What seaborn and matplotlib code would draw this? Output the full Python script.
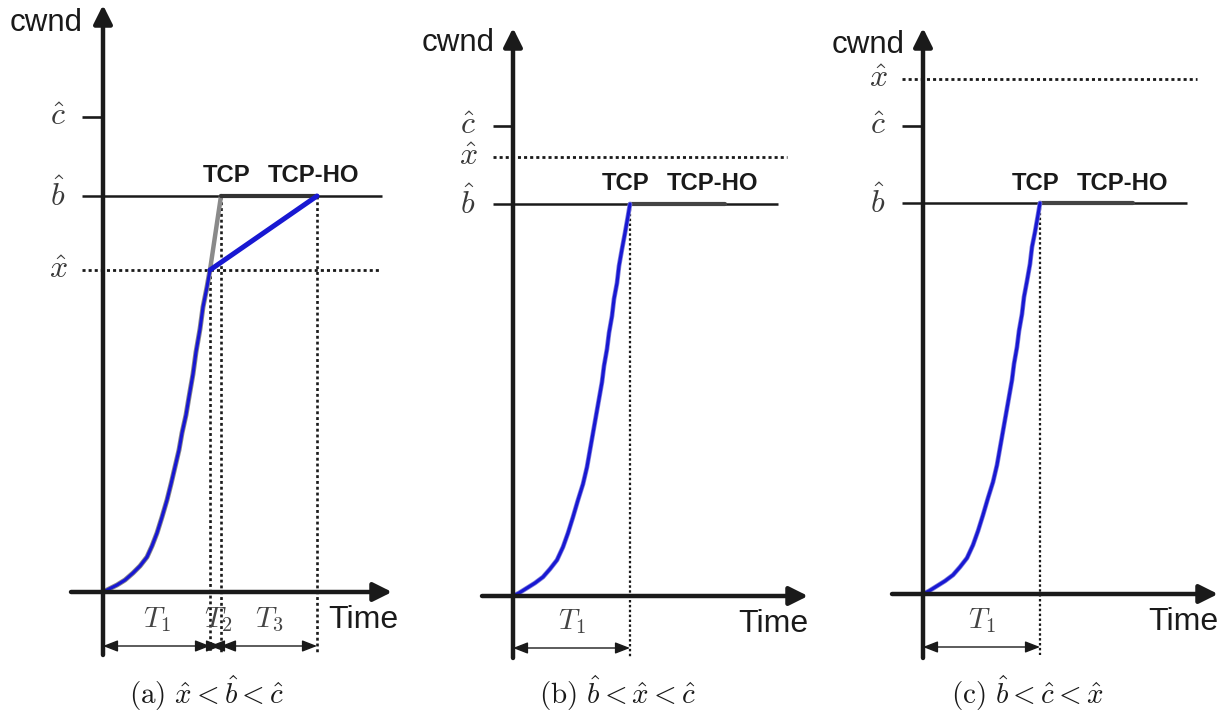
import numpy as np
import pandas as pd
import matplotlib
matplotlib.use("Agg")
import matplotlib.pyplot as plt
import seaborn as sns

sns.set_theme(style="white")
plt.rcParams["font.family"] = ["Liberation Sans", "DejaVu Sans"]
plt.rcParams["mathtext.fontset"] = "cm"

# ---------------- data (arbitrary cwnd / time units, relative to the origin) ----
captions = [r"$\mathrm{(a)}\ \hat{x} < \hat{b} < \hat{c}$",
            r"$\mathrm{(b)}\ \hat{b} < \hat{x} < \hat{c}$",
            r"$\mathrm{(c)}\ \hat{b} < \hat{c} < \hat{x}$"]
level_names = [r"$\hat{c}$", r"$\hat{b}$", r"$\hat{x}$"]
c_hat = [475, 470, 468]
b_hat = [396, 392, 391]
x_hat = [322, 439, 515]
# phase durations
T_a = [107, 11, 96]
T_b = [117]
T_c = [117]
T_labels = [r"$T_1$", r"$T_2$", r"$T_3$"]
# slow-start growth curve
curve_a_t = [0, 6, 14, 22, 30, 37, 44, 49, 54, 59, 64, 68, 72, 76, 79, 83, 86, 90, 93, 97, 100, 104, 107]
curve_a_w = [0, 3, 7, 12, 19, 26, 35, 46, 59, 75, 92, 108, 125, 142, 159, 177, 195, 218, 240, 263, 285, 305, 322]
curve_b_t = [0, 6, 14, 22, 30, 37, 44, 50, 55, 60, 65, 70, 74, 77, 80, 83, 86, 89, 91, 94, 96, 99, 101, 104, 106, 109, 112, 115, 117]
curve_b_w = [0, 3, 8, 13, 19, 27, 36, 49, 63, 79, 96, 112, 129, 146, 163, 180, 197, 214, 230, 247, 263, 280, 297, 313, 330, 347, 363, 380, 392]
curve_c_t = [0, 6, 14, 22, 30, 37, 44, 50, 55, 60, 65, 70, 74, 77, 80, 83, 86, 89, 91, 94, 96, 99, 101, 104, 107, 109, 112, 115, 117]
curve_c_w = [0, 3, 8, 13, 19, 27, 36, 49, 63, 79, 96, 112, 129, 146, 163, 180, 197, 214, 230, 247, 263, 280, 297, 313, 330, 347, 362, 379, 391]
# end of the TCP-HO flat segment along b-hat
flat_end = [214, 212, 210]

# ---------------- layout (pixels) ----------------
W, H = 1228, 713
origin_px = [(103, 592), (513, 596), (923, 594)]
span_px = [(0, 410), (410, 820), (820, 1228)]
yaxis_extent = [(-63, 587), (-62, 568), (-64, 566)]
xaxis_extent = [(-32, 289), (-31, 295), (-31, 295)]
line_left = [-21, -20, -21]
b_right = [279, 265, 264]
x_right = [276, 274, 274]
cwnd_pos = [(-93, 569), (-91, 553), (-91, 549)]
time_x = 225
tcp_y = [417, 412, 411]
tcp_x = [100, 89, 89]
tcpho_x = [165, 154, 154]
arrow_y = [-54, -52, -53]
vline_bottom = [-61, -61, -61]
caption_y = 693

BLUE = "#1818d2"
GRAY = "#8a8a8a"
DOT = (0, (1.1, 1.1))

fig = plt.figure(figsize=(W / 100, H / 100), dpi=100)

curves = [(curve_a_t, curve_a_w), (curve_b_t, curve_b_w), (curve_c_t, curve_c_w)]
Ts = [T_a, T_b, T_c]
line_kw = dict(estimator=None, solid_joinstyle="round", solid_capstyle="round")

for i in range(3):
    ox, oy = origin_px[i]
    x0, x1 = span_px[i]
    ax = fig.add_axes([x0 / W, 0, (x1 - x0) / W, 1])
    ax.set_xlim(x0 - ox, x1 - ox)
    ax.set_ylim(-(H - oy), oy)
    ax.axis("off")

    c, b, xh = c_hat[i], b_hat[i], x_hat[i]
    L = line_left[i]

    # axes with arrow heads
    ya0, ya1 = yaxis_extent[i]
    ax.annotate("", xy=(0, ya1), xytext=(0, ya0),
                arrowprops=dict(arrowstyle="-|>,head_length=0.8,head_width=0.4",
                                lw=3.2, color="k", shrinkA=0, shrinkB=0,
                                mutation_scale=14), zorder=5)
    xa0, xa1 = xaxis_extent[i]
    ax.annotate("", xy=(xa1, 0), xytext=(xa0, 0),
                arrowprops=dict(arrowstyle="-|>,head_length=0.8,head_width=0.4",
                                lw=3.2, color="k", shrinkA=0, shrinkB=0,
                                mutation_scale=14), zorder=5)

    # c-hat tick, b-hat line, x-hat dotted
    ax.plot([L, 0], [c, c], color="k", lw=1.9, solid_capstyle="butt")
    ax.plot([L, b_right[i]], [b, b], color="k", lw=1.8, solid_capstyle="butt", zorder=3)
    ax.plot([L, x_right[i]], [xh, xh], color="k", lw=2.0, ls=DOT)

    # level labels
    for name, lev in zip(level_names, [c, b, xh]):
        ax.text(-45, lev, name, fontsize=23, color="#3a3a3a",
                ha="center", va="center")

    ct, cw = curves[i]
    df = pd.DataFrame({"time": ct, "cwnd": cw})
    T = Ts[i]
    bounds = np.concatenate([[0], np.cumsum(T)])

    if i == 0:
        # TCP (gray) path and TCP-HO (blue) path
        sns.lineplot(data=df, x="time", y="cwnd", ax=ax, color=GRAY, lw=3.6,
                     sort=False, zorder=3, **line_kw)
        sns.lineplot(x=[ct[-1], bounds[2]], y=[cw[-1], b], ax=ax, color=GRAY,
                     lw=3.2, zorder=3, **line_kw)
        sns.lineplot(x=[bounds[2], bounds[3]], y=[b, b], ax=ax, color="#333333",
                     lw=3.0, zorder=3, **line_kw)
        sns.lineplot(data=df, x="time", y="cwnd", ax=ax, color=BLUE, lw=2.3,
                     sort=False, zorder=4, **line_kw)
        sns.lineplot(x=[ct[-1], bounds[3]], y=[cw[-1], b], ax=ax, color=BLUE,
                     lw=3.6, zorder=4, **line_kw)
        tops = [xh, b, b]
        for k in range(1, 4):
            ax.plot([bounds[k], bounds[k]], [tops[k - 1], vline_bottom[i]],
                    color="k", lw=1.9, ls=DOT, zorder=2)
    else:
        sns.lineplot(x=[bounds[1], flat_end[i]], y=[b, b], ax=ax, color="#444444",
                     lw=3.0, zorder=3, **line_kw)
        sns.lineplot(data=df, x="time", y="cwnd", ax=ax, color="#8080dc", lw=3.4,
                     sort=False, zorder=3, **line_kw)
        sns.lineplot(data=df, x="time", y="cwnd", ax=ax, color=BLUE, lw=2.3,
                     sort=False, zorder=4, **line_kw)
        ax.plot([bounds[1], bounds[1]], [b, vline_bottom[i]],
                color="k", lw=1.6, ls=DOT, zorder=2)

    # duration arrows and labels
    for k in range(len(T)):
        ax.annotate("", xy=(bounds[k + 1], arrow_y[i]), xytext=(bounds[k], arrow_y[i]),
                    arrowprops=dict(arrowstyle="<|-|>,head_length=0.9,head_width=0.35",
                                    lw=1.0, color="k", shrinkA=0, shrinkB=0,
                                    mutation_scale=10), zorder=4)
        ax.text((bounds[k] + bounds[k + 1]) / 2 + (3 if k == 1 else 0), arrow_y[i] + 26,
                T_labels[k], fontsize=21, color="#444444", ha="center", va="center")

    # texts
    ax.text(cwnd_pos[i][0], cwnd_pos[i][1], "cwnd", fontsize=22.5, ha="left",
            va="center", color="k")
    ax.text(time_x, -28, "Time", fontsize=23, ha="left", va="center", color="k")
    ax.text(tcp_x[i], tcp_y[i], "TCP", fontsize=17.2, fontweight="bold",
            ha="left", va="center", color="k")
    ax.text(tcpho_x[i], tcp_y[i], "TCP-HO", fontsize=17.2, fontweight="bold",
            ha="left", va="center", color="k")
    ax.text(104, -(caption_y - oy), captions[i], fontsize=21,
            ha="center", va="center", color="k")

fig.savefig("out.png", dpi=100)
